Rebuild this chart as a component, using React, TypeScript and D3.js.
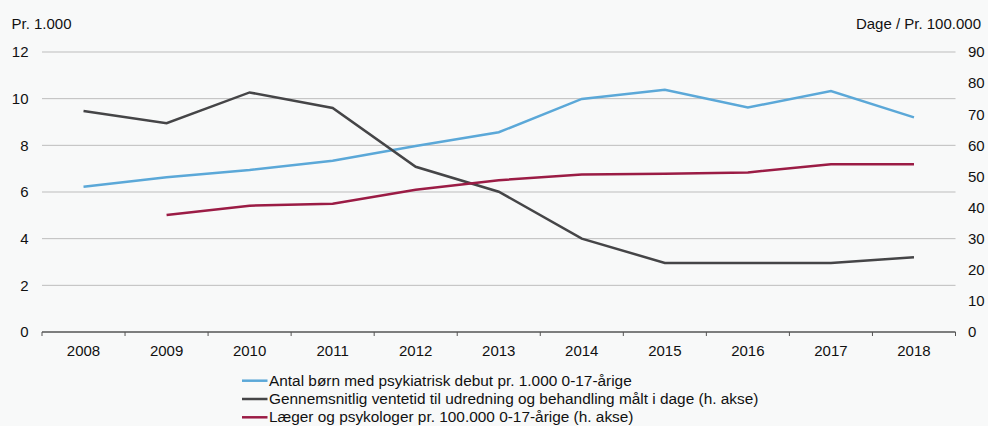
import React from "react";
import * as d3 from "d3";

const years = ["2008","2009","2010","2011","2012","2013","2014","2015","2016","2017","2018"];
const boern = [6.23,6.63,6.94,7.34,7.97,8.56,9.99,10.38,9.62,10.33,9.2];
const ventetid = [71.0,67.1,77.0,72.0,53.1,45.1,30.0,22.2,22.2,22.2,24.0];
const laeger: (number|null)[] = [null,37.6,40.6,41.2,45.7,48.8,50.6,50.9,51.3,53.9,53.9];
const leftTicks = [0,2,4,6,8,10,12];
const rightTicks = [0,10,20,30,40,50,60,70,80,90];
const legendLabels = [
  "Antal børn med psykiatrisk debut pr. 1.000 0-17-årige",
  "Gennemsnitlig ventetid til udredning og behandling målt i dage (h. akse)",
  "Læger og psykologer pr. 100.000 0-17-årige (h. akse)",
];
const colors = ["#5ba8d8", "#454547", "#9b1c45"];

export default function App() {
  React.useEffect(() => {
    document.body.style.margin = "0";
    document.body.style.background = "#f8f9f9";
  }, []);
  const W = 988, H = 426;
  const left = 42, right = 955.5, top = 52, bottom = 332;
  const x = d3.scaleBand().domain(years).range([left, right]);
  const yL = d3.scaleLinear().domain([0, 12]).range([bottom, top]);
  const yR = d3.scaleLinear().domain([0, 90]).range([bottom, top]);
  const cx = (y: string) => (x(y) as number) + x.bandwidth() / 2;
  const lineL = d3.line<number>().x((_, i) => cx(years[i])).y(d => yL(d));
  const lineR = d3.line<number | null>().defined(d => d != null).x((_, i) => cx(years[i])).y(d => yR(d as number));
  const font = "Liberation Sans, Arial, Helvetica, sans-serif";
  const boundaries = years.map(y => x(y) as number).concat([right]);
  return (
    <svg width={W} height={H} style={{ position: "absolute", left: 0, top: 0, background: "#f8f9f9" }} fontFamily={font} fontSize={15}>
      <rect x={0} y={0} width={W} height={H} fill="#f8f9f9" />
      {leftTicks.filter(t => t > 0).map(t => (
        <line key={t} x1={left} x2={right} y1={yL(t)} y2={yL(t)} stroke="#bdbdbd" strokeWidth={1} />
      ))}
      {leftTicks.map(t => (
        <text key={t} x={28.5} y={yL(t) + 5.3} textAnchor="end" fill="#111">{t}</text>
      ))}
      {rightTicks.map(t => (
        <text key={t} x={968} y={yR(t) + 5.3} textAnchor="start" fill="#111">{t}</text>
      ))}
      <text x={11.5} y={29} fill="#111">Pr. 1.000</text>
      <text x={981} y={29} textAnchor="end" fill="#111">Dage / Pr. 100.000</text>
      <line x1={left} x2={right} y1={bottom} y2={bottom} stroke="#555" strokeWidth={1.5} />
      {boundaries.map((b, i) => (
        <line key={i} x1={b} x2={b} y1={bottom} y2={bottom + 4} stroke="#555" strokeWidth={1} />
      ))}
      {years.map(y => (
        <text key={y} x={cx(y)} y={355.5} textAnchor="middle" fill="#111">{y}</text>
      ))}
      <path d={lineL(boern) || ""} fill="none" stroke={colors[0]} strokeWidth={2.5} />
      <path d={lineR(ventetid) || ""} fill="none" stroke={colors[1]} strokeWidth={2.5} />
      <path d={lineR(laeger) || ""} fill="none" stroke={colors[2]} strokeWidth={2.5} />
      {legendLabels.map((l, i) => (
        <g key={l} transform={`translate(242, ${380.7 + i * 18.3})`}>
          <line x1={0} x2={25.5} y1={0} y2={0} stroke={colors[i]} strokeWidth={2.5} />
          <text x={27} y={5} fontSize={15.4} fill="#111">{l}</text>
        </g>
      ))}
    </svg>
  );
}
